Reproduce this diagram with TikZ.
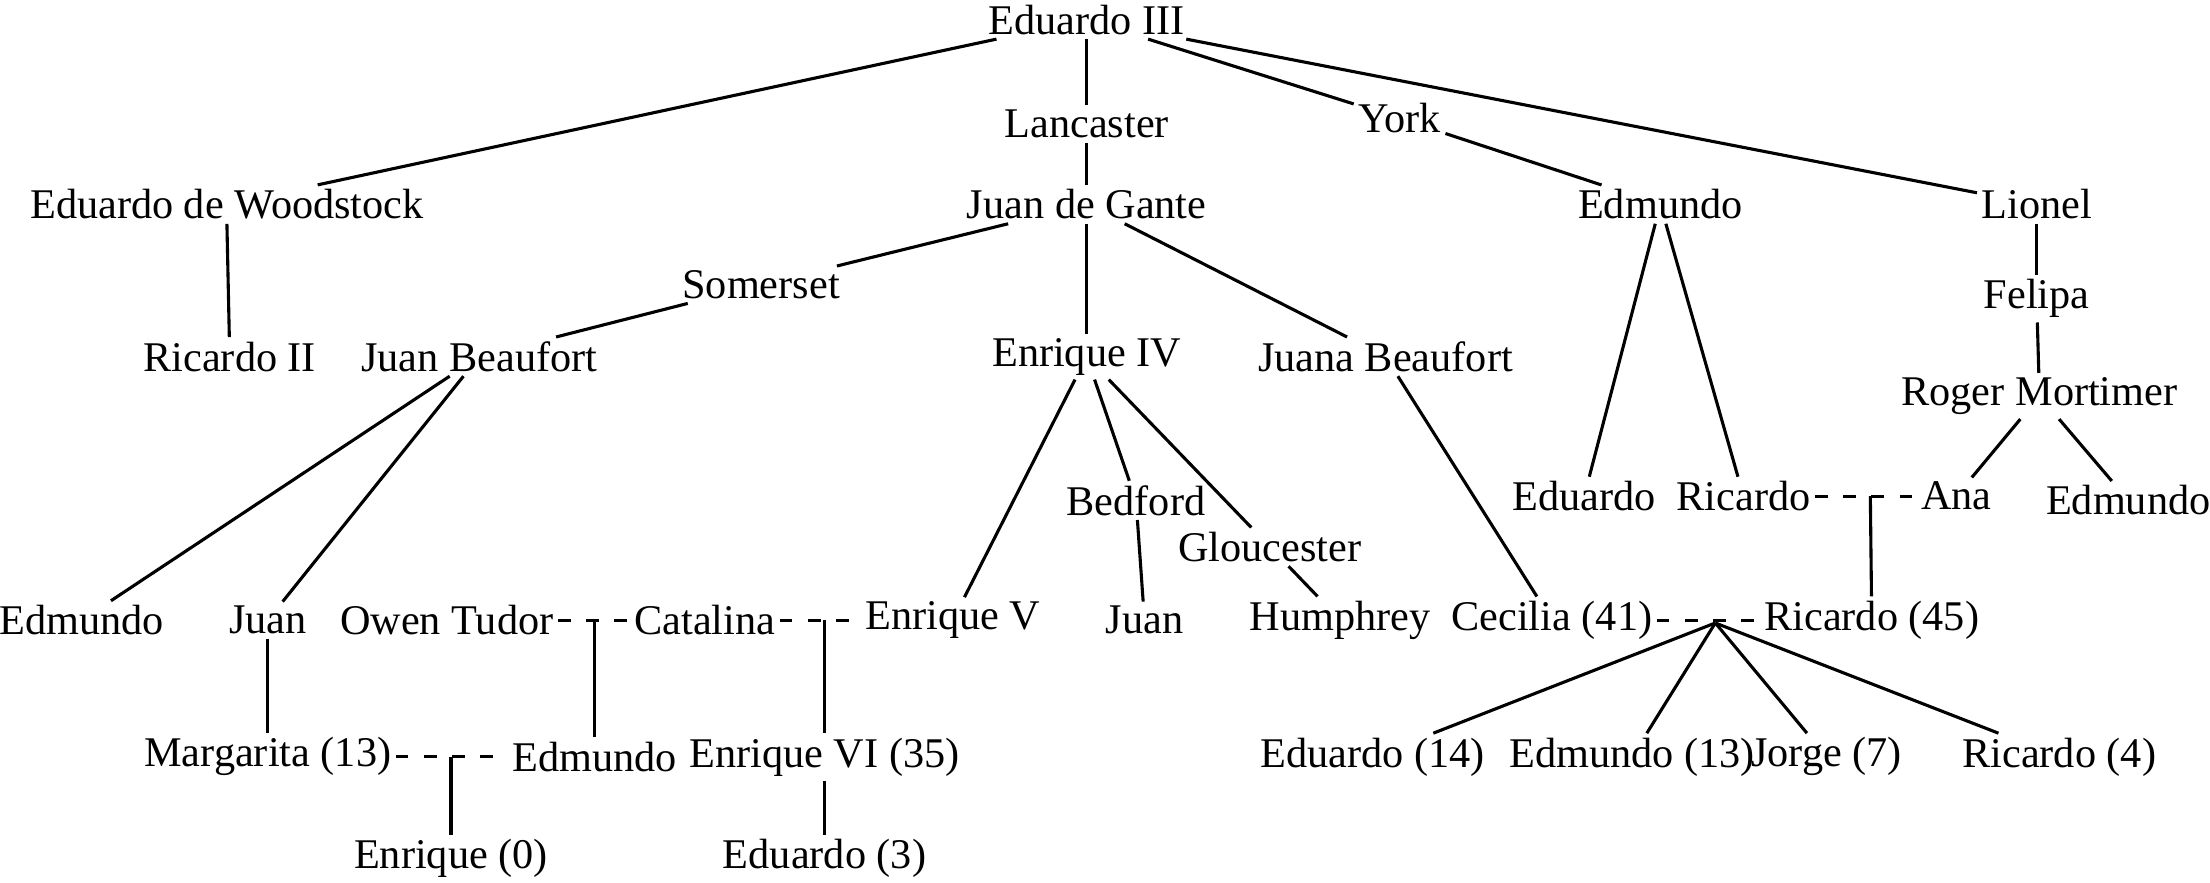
\documentclass[tikz,border=0pt]{standalone}
\usepackage{fontspec}
\setmainfont{Liberation Serif}
\tikzset{
    person/.style={inner sep=3pt, font=\fontsize{30}{36}\selectfont},
    link/.style={line width=2.2pt},
    wed/.style={line width=2.2pt, dash pattern=on 9pt off 11pt}
}
\begin{document}
\begin{tikzpicture}[x=1pt,y=-1pt]
    \useasboundingbox (0,0) rectangle (1568,626);

    % Generations, top to bottom
    \node[person] (e3) at (771,14) {Eduardo III};
    \node[person] (lanc) at (771,88) {Lancaster};
    \node[person] (york) at (993,84) {York};
    \node[person] (wood) at (161,145) {Eduardo de Woodstock};
    \node[person] (gante) at (771,145) {Juan de Gante};
    \node[person] (edmT) at (1178,145) {Edmundo};
    \node[person] (lionel) at (1445,145) {Lionel};
    \node[person] (somer) at (540,202) {Somerset};
    \node[person] (felipa) at (1445,212) {Felipa};
    \node[person] (ric2) at (163,253) {Ricardo II};
    \node[person] (jbeau) at (340,253) {Juan Beaufort};
    \node[person] (enr4) at (771,253) {Enrique IV};
    \node[person] (jnbeau) at (983,253) {Juana Beaufort};
    \node[person] (roger) at (1447,281) {Roger Mortimer};
    \node[person] (eduY) at (1124,352) {Eduardo};
    \node[person] (ricY) at (1237,352) {Ricardo};
    \node[person] (ana) at (1388,352) {Ana};
    \node[person] (edmM) at (1510,355) {Edmundo};
    \node[person] (bedf) at (806,355) {Bedford};
    \node[person] (glou) at (901,388) {Gloucester};
    \node[person] (edmB) at (58,440) {Edmundo};
    \node[person] (juanB) at (190,440) {Juan};
    \node[person] (owen) at (317,440) {Owen Tudor};
    \node[person] (catal) at (500,440) {Catalina};
    \node[person] (enr5) at (676,440) {Enrique V};
    \node[person] (juanBd) at (812,440) {Juan};
    \node[person] (humph) at (951,440) {Humphrey};
    \node[person] (cecil) at (1101,440) {Cecilia (41)};
    \node[person] (ric45) at (1328,440) {Ricardo (45)};
    \node[person] (marg) at (190,537) {Margarita (13)};
    \node[person] (edmT2) at (422,537) {Edmundo};
    \node[person] (enr6) at (585,537) {Enrique VI (35)};
    \node[person] (edu14) at (974,537) {Eduardo (14)};
    \node[person] (edm13) at (1158,537) {Edmundo (13)};
    \node[person] (jorge) at (1296,537) {Jorge (7)};
    \node[person] (ric4) at (1461,537) {Ricardo (4)};
    \node[person] (enr0) at (320,609) {Enrique (0)};
    \node[person] (edu3) at (585,609) {Eduardo (3)};

    % Descent lines
    \draw[link] (e3) -- (wood);
    \draw[link] (e3) -- (lanc);
    \draw[link] (e3) -- (york);
    \draw[link] (e3) -- (lionel);
    \draw[link] (york) -- (edmT);
    \draw[link] (lanc) -- (gante);
    \draw[link] (wood.south) ++(0,0) -- (ric2);
    \draw[link] (gante) -- (somer);
    \draw[link] (somer) -- (jbeau);
    \draw[link] (gante) -- (enr4);
    \draw[link] (gante) -- (jnbeau);
    \draw[link] (edmT) -- (eduY);
    \draw[link] (edmT) -- (ricY);
    \draw[link] (lionel) -- (felipa);
    \draw[link] (felipa) -- (roger);
    \draw[link] (roger) -- (ana);
    \draw[link] (roger) -- (edmM);
    \draw[link] (jbeau) -- (edmB);
    \draw[link] (jbeau) -- (juanB);
    \draw[link] (enr4) -- (enr5);
    \draw[link] (enr4) -- (bedf);
    \draw[link] (enr4) -- (glou);
    \draw[link] (bedf) -- (juanBd);
    \draw[link] (glou) -- (humph);
    \draw[link] (jnbeau) -- (cecil);
    \draw[link] (juanB) -- (marg);
    \draw[link] (enr6) -- (edu3);

    % Marriages, with the line down to the child
    \coordinate (m1) at (422,440);
    \draw[wed] (owen) -- (catal);
    \draw[link] (m1) -- (edmT2);
    \coordinate (m2) at (585,440);
    \draw[wed] (catal) -- (enr5);
    \draw[link] (m2) -- (enr6);
    \coordinate (m3) at (320,537);
    \draw[wed] (marg) -- (edmT2);
    \draw[link] (m3) -- (enr0);
    \coordinate (m4) at (1327,352);
    \draw[wed] (ricY) -- (ana);
    \draw[link] (m4) -- (ric45);
    \coordinate (m5) at (1217,442);
    \draw[wed] (cecil) -- (ric45);
    \foreach \c in {edu14,edm13,jorge,ric4}
        \draw[link] (m5) -- (\c);
\end{tikzpicture}
\end{document}
